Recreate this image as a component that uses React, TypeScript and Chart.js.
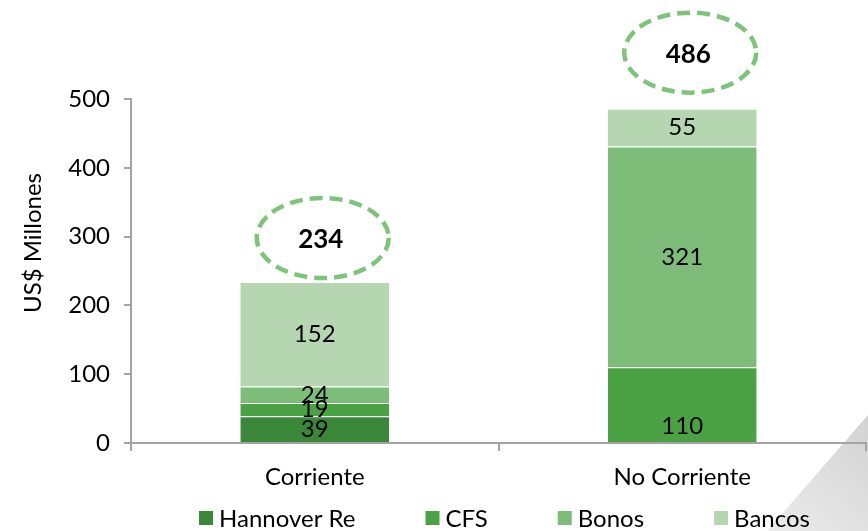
import React, { useEffect, useRef } from 'react';
import { Chart, registerables } from 'chart.js';

Chart.register(...registerables);

const categories = ['Corriente', 'No Corriente'];
const seriesNames = ['Hannover Re', 'CFS', 'Bonos', 'Bancos'];
const hannoverRe = [39, 0];
const cfs = [19, 110];
const bonos = [24, 321];
const bancos = [152, 55];
const totals = [234, 486];
const yTicks = [0, 100, 200, 300, 400, 500];
const yTitle = 'US$ Millones';

const seriesColors = ['#3b873a', '#4aa244', '#7dbd79', '#b5d6b1'];
const axisColor = '#a3a3a3';
const ellipseColor = '#7dc47a';
const FONT = 'Lato';

const trianglePlugin = {
  id: 'cornerTriangle',
  beforeDraw(chart: any) {
    const { ctx, width, height } = chart;
    ctx.save();
    ctx.beginPath();
    ctx.moveTo(width, height - 116);
    ctx.lineTo(width, height);
    ctx.lineTo(width - 101, height);
    ctx.closePath();
    const g = ctx.createLinearGradient(width, height - 116, width - 101, height);
    g.addColorStop(0, '#d2d2d2');
    g.addColorStop(1, '#ececec');
    ctx.fillStyle = g;
    ctx.fill();
    ctx.restore();
  },
};

const labelsPlugin = {
  id: 'segLabels',
  afterDatasetsDraw(chart: any, _args: any, opts: any) {
    const { ctx } = chart;
    const nudges = (opts && opts.nudges) || {};
    ctx.save();
    ctx.font = `24px ${FONT}`;
    ctx.fillStyle = '#000';
    ctx.textAlign = 'center';
    ctx.textBaseline = 'middle';
    chart.data.datasets.forEach((ds: any, di: number) => {
      const meta = chart.getDatasetMeta(di);
      meta.data.forEach((el: any, i: number) => {
        const v = ds.data[i];
        if (!v) return;
        const dy = nudges[`${di}-${i}`] || 0;
        ctx.fillText(String(v), el.x, (el.y + el.base) / 2 + dy);
      });
    });
    ctx.restore();
  },
};

const totalsPlugin = {
  id: 'totalsEllipse',
  afterDatasetsDraw(chart: any, _args: any, opts: any) {
    const { ctx } = chart;
    const xs = chart.scales.x;
    const ys = chart.scales.y;
    ctx.save();
    totals.forEach((t, i) => {
      const cx = xs.getPixelForValue(i) + opts.dx;
      const cy = ys.getPixelForValue(t) - opts.offsets[i];
      ctx.beginPath();
      ctx.ellipse(cx, cy, 66, 40, 0, 0, Math.PI * 2);
      ctx.setLineDash([13, 7]);
      ctx.lineWidth = 4.5;
      ctx.strokeStyle = ellipseColor;
      ctx.stroke();
      ctx.setLineDash([]);
      ctx.font = `bold 26px ${FONT}`;
      ctx.fillStyle = '#000';
      ctx.textAlign = 'center';
      ctx.textBaseline = 'middle';
      ctx.fillText(String(t), cx - 2, cy + 2);
    });
    ctx.restore();
  },
};

const legendPlugin = {
  id: 'customLegend',
  afterDraw(chart: any) {
    const { ctx, chartArea } = chart;
    ctx.save();
    ctx.font = `24px ${FONT}`;
    ctx.textBaseline = 'middle';
    ctx.textAlign = 'left';
    const box = 14;
    const boxGap = 6;
    const itemGap = 70;
    const widths = seriesNames.map((n) => box + boxGap + ctx.measureText(n).width);
    const total = widths.reduce((a, b) => a + b, 0) + itemGap * (seriesNames.length - 1);
    let x = (chartArea.left + chartArea.right) / 2 - total / 2 + 6;
    const y = 518;
    seriesNames.forEach((n, i) => {
      ctx.fillStyle = seriesColors[i];
      ctx.fillRect(x, y - box / 2, box, box);
      ctx.fillStyle = '#000';
      ctx.fillText(n, x + box + boxGap, y + 1);
      x += widths[i] + itemGap;
    });
    ctx.restore();
  },
};

const yTitlePlugin = {
  id: 'yTitle',
  afterDraw(chart: any) {
    const { ctx } = chart;
    ctx.save();
    ctx.translate(33, 243);
    ctx.rotate(-Math.PI / 2);
    ctx.font = `24px ${FONT}`;
    ctx.fillStyle = '#000';
    ctx.textAlign = 'center';
    ctx.textBaseline = 'middle';
    ctx.fillText(yTitle, 0, 0);
    ctx.restore();
  },
};

export default function App() {
  const ref = useRef<HTMLCanvasElement | null>(null);

  useEffect(() => {
    document.body.style.margin = '0';
    const canvas = ref.current;
    if (!canvas) return;
    const data = [hannoverRe, cfs, bonos, bancos];
    const chart = new Chart(canvas, {
      type: 'bar',
      data: {
        labels: categories,
        datasets: seriesNames.map((name, i) => ({
          label: name,
          data: data[i],
          backgroundColor: seriesColors[i],
          borderColor: 'rgba(255,255,255,0.6)',
          borderWidth: { top: 1, bottom: 0, left: 0, right: 0 },
          borderSkipped: false,
          barPercentage: 0.405,
          categoryPercentage: 1,
        })),
      },
      options: {
        animation: false,
        responsive: false,
        devicePixelRatio: 1,
        layout: { padding: { top: 99, right: 2, left: 0, bottom: 0 } },
        plugins: {
          legend: { display: false },
          tooltip: { enabled: false },
          totalsEllipse: { dx: 8, offsets: [44, 56] },
          segLabels: { nudges: { '1-1': 22 } },
        } as any,
        scales: {
          x: {
            stacked: true,
            offset: true,
            grid: {
              offset: true,
              drawOnChartArea: false,
              drawTicks: true,
              tickLength: 8,
              color: axisColor,
              lineWidth: 2,
            },
            border: { color: axisColor, width: 2 },
            ticks: { font: { family: FONT, size: 24 }, color: '#000', padding: 12 },
            afterFit: (s: any) => {
              s.height = 88;
            },
          },
          y: {
            stacked: true,
            min: 0,
            max: 500,
            afterBuildTicks: (axis: any) => {
              axis.ticks = yTicks.map((v) => ({ value: v }));
            },
            grid: {
              drawOnChartArea: false,
              drawTicks: true,
              tickLength: 7,
              color: axisColor,
              lineWidth: 2,
            },
            border: { color: axisColor, width: 2 },
            ticks: { font: { family: FONT, size: 24 }, color: '#000', padding: 14 },
            afterFit: (s: any) => {
              s.width = 131;
            },
          },
        },
      },
      plugins: [trianglePlugin, labelsPlugin, totalsPlugin, legendPlugin, yTitlePlugin],
    });
    return () => chart.destroy();
  }, []);

  return (
    <div style={{ position: 'relative', width: 868, height: 531 }}>
      <canvas ref={ref} width={868} height={531} style={{ display: 'block' }} />
    </div>
  );
}
